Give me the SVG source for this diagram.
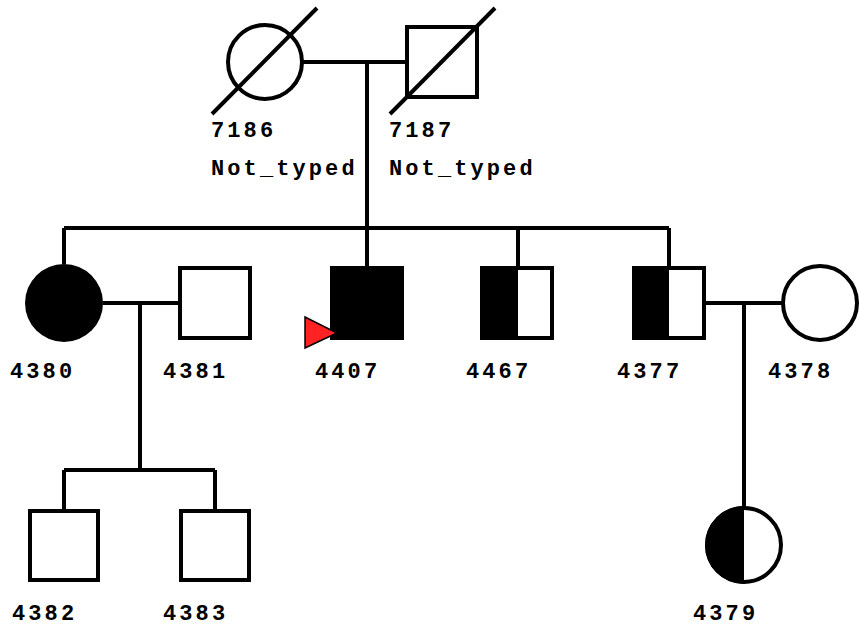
<svg xmlns="http://www.w3.org/2000/svg" width="859" height="635" viewBox="0 0 859 635">
<style>
.l{stroke:#000;stroke-width:4;fill:none}
.s{stroke:#000;stroke-width:4;fill:#fff}
.f{fill:#000;stroke:none}
.t{font-family:"Liberation Mono","Courier New",monospace;font-weight:bold;font-size:22px;letter-spacing:3.1px;fill:#000}
</style>
<rect width="859" height="635" fill="#fff"/>
<g id="connectors">
<path class="l" d="M302 62H407M367 62V228M64 228H669M64 228V264M367 228V268M518 228V268M669 228V268M103 303H180M140 303V470M64 470H215M64 470V511M215 470V511M705 303H783M744 303V507"/>
</g>
<g id="n7186"><circle class="s" cx="265" cy="62" r="37"/><line class="l" x1="212" y1="114" x2="317" y2="8"/><text class="t" x="211" y="137">7186</text><text class="t" x="211" y="175">Not_typed</text></g>
<g id="n7187"><rect class="s" x="407" y="27" width="70" height="70"/><line class="l" x1="390" y1="114" x2="495" y2="8"/><text class="t" x="389" y="137">7187</text><text class="t" x="389" y="175">Not_typed</text></g>
<g id="n4380"><circle cx="64" cy="303" r="39" fill="#000"/><text class="t" x="10" y="378">4380</text></g>
<g id="n4381"><rect class="s" x="180" y="268" width="70" height="70"/><text class="t" x="163" y="378">4381</text></g>
<g id="n4407"><rect x="330" y="266" width="74" height="74" fill="#000"/><polygon points="305,317 337,333 305,348" fill="#f22" stroke="#000" stroke-width="1.5"/><text class="t" x="315" y="378">4407</text></g>
<g id="n4467"><rect class="s" x="482" y="268" width="70" height="70"/><rect class="f" x="482" y="268" width="36" height="70"/><text class="t" x="466" y="378">4467</text></g>
<g id="n4377"><rect class="s" x="634" y="268" width="70" height="70"/><rect class="f" x="634" y="268" width="35" height="70"/><text class="t" x="617" y="378">4377</text></g>
<g id="n4378"><circle class="s" cx="820" cy="303" r="37"/><text class="t" x="768" y="378">4378</text></g>
<g id="n4382"><rect class="s" x="30" y="511" width="68" height="69"/><text class="t" x="12" y="620">4382</text></g>
<g id="n4383"><rect class="s" x="181" y="511" width="68" height="69"/><text class="t" x="163" y="620">4383</text></g>
<g id="n4379"><circle class="s" cx="744" cy="545" r="37"/><path class="f" d="M744 506A39 39 0 0 0 744 584Z"/><text class="t" x="693" y="620">4379</text></g>
</svg>
